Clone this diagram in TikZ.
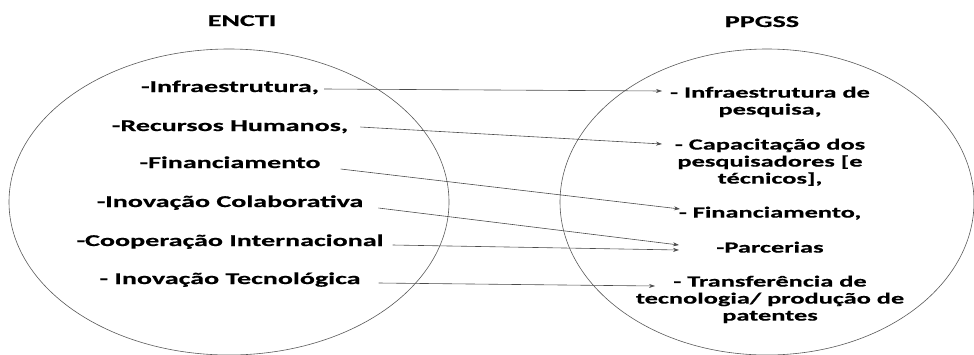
\documentclass[tikz,border=0pt]{standalone}
\usepackage{fontspec}
\usepackage{tikz}
\usetikzlibrary{arrows.meta}
\newfontfamily\widefont{Carlito}[FakeStretch=1.7,FakeBold=0.6]

\tikzset{
  item/.style={font=\widefont\bfseries\fontsize{16.5}{17}\selectfont, inner sep=0pt,
    text height=11pt, text depth=3pt},
  goal/.style={font=\widefont\bfseries\fontsize{15.5}{17}\selectfont, inner sep=0pt,
    align=center, anchor=north},
  ring/.style={draw=black!65, line width=0.6pt},
  link/.style={draw=black!70, line width=0.6pt, -{Stealth[length=6pt,width=4pt]}}
}

\begin{document}
\begin{tikzpicture}[x=1pt,y=-1pt]
\useasboundingbox (0,0) rectangle (974,354);

% the two sets
\draw[ring] (229,202) ellipse [x radius=220, y radius=153];
\draw[ring] (767,202) ellipse [x radius=207, y radius=153];
\node[item] (encti) at (242,22) {ENCTI};
\node[item] (ppgss) at (762,23) {PPGSS};

% ENCTI side
\node[item] (l1) at (230,88) {-Infraestrutura,};
\node[item] (l2) at (230,127) {-Recursos Humanos,};
\node[item] (l3) at (230,164) {-Financiamento};
\node[item] (l4) at (230,203) {-Inovação Colaborativa};
\node[item] (l5) at (230,242) {-Cooperação Internacional};
\node[item] (l6) at (230,280) {- Inovação Tecnológica};

% PPGSS side
\node[goal] (r1) at (770,86.5) {- Infraestrutura de\\pesquisa,};
\node[goal] (r2) at (770,138.5) {- Capacitação dos\\pesquisadores [e\\técnicos],};
\node[goal] (r3) at (770,206.5) {- Financiamento,};
\node[goal] (r4) at (770,241.5) {-Parcerias};
\node[goal] (r5) at (770,275.5) {- Transferência de\\tecnologia/ produção de\\patentes};

% links
\draw[link] ([xshift=5pt,yshift=-1pt]l1.east) -- ([xshift=-108pt,yshift=-4.5pt]r1.north);
\draw[link] ([xshift=12pt]l2.east) -- ([xshift=-108pt,yshift=-5.5pt]r2.north);
\draw[link] ([xshift=20pt,yshift=-5pt]l3.east) -- ([xshift=-90pt,yshift=-2.5pt]r3.north);
\draw[link] ([xshift=15pt,yshift=-5pt]l4.east) -- ([xshift=-91pt,yshift=-3.5pt]r4.north);
\draw[link] ([xshift=9pt,yshift=-3pt]l5.east) -- ([xshift=-91pt,yshift=-8.5pt]r4.north);
\draw[link] ([xshift=18pt,yshift=-3pt]l6.east) -- ([xshift=-115pt,yshift=-10.5pt]r5.north);
\end{tikzpicture}
\end{document}
